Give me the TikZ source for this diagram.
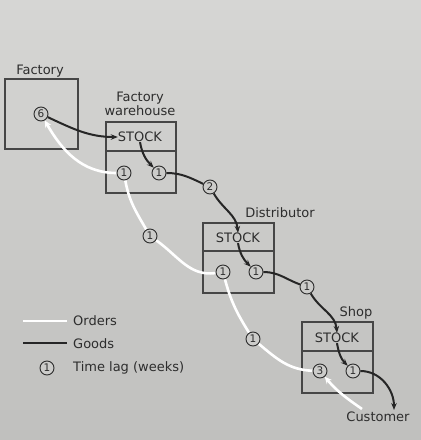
\documentclass[tikz,border=0pt]{standalone}
\usepackage{fontspec}
\setmainfont{DejaVu Sans}
\usetikzlibrary{arrows.meta}
\definecolor{bgtop}{RGB}{214,214,212}
\definecolor{bgbot}{RGB}{192,192,190}
\definecolor{bgc}{RGB}{204,204,202}
\definecolor{ink}{RGB}{45,45,45}
\definecolor{boxc}{RGB}{70,70,70}
\pgfdeclarelayer{bg}\pgfdeclarelayer{boxes}\pgfdeclarelayer{lines}
\pgfsetlayers{bg,boxes,lines,main}
\begin{document}
\begin{tikzpicture}[x=1pt,y=1pt,
 lbl/.style={font=\fontsize{13}{14}\selectfont, text=ink, inner sep=0pt, align=center},
 lag/.style={circle, draw=ink, line width=0.9pt, fill=bgc, inner sep=0pt, minimum size=14pt, font=\fontsize{10.5}{11}\selectfont, text=ink},
 goods/.style={draw=black!85, line width=2pt, -{Stealth[length=7pt,width=5.5pt]}},
 goodsline/.style={draw=black!85, line width=2pt},
 orders/.style={draw=white, line width=2.6pt},
 ordarrow/.style={orders, -{Stealth[length=7pt,width=6.5pt,fill=white]}},
 stockbox/.style={draw=boxc, line width=1.2pt, inner sep=0pt}]
\begin{pgfonlayer}{bg}
\shade[top color=bgtop, bottom color=bgbot] (0,0) rectangle (421,-440);
\end{pgfonlayer}
\useasboundingbox (0,0) rectangle (421,-440);
% boxes
\begin{pgfonlayer}{boxes}
\node[stockbox, minimum width=73pt, minimum height=70pt] (fbox) at (41.5,-114) {};
\node[stockbox, minimum width=70pt, minimum height=71pt] (wbox) at (141,-157.5) {};
\node[stockbox, minimum width=71pt, minimum height=70pt] (dbox) at (238.5,-258) {};
\node[stockbox, minimum width=71pt, minimum height=71pt] (sbox) at (337.5,-357.5) {};
\draw[draw=boxc, line width=1.2pt] (wbox.west |- 0,-151) -- (wbox.east |- 0,-151);
\draw[draw=boxc, line width=1.2pt] (dbox.west |- 0,-251) -- (dbox.east |- 0,-251);
\draw[draw=boxc, line width=1.2pt] (sbox.west |- 0,-351) -- (sbox.east |- 0,-351);
\end{pgfonlayer}
% labels
\node[lbl] (tf) at (40,-71) {Factory};
\node[lbl] (tw) at (140,-104) {Factory\\warehouse};
\node[lbl] (td) at (280,-213) {Distributor};
\node[lbl] (ts) at (356,-313) {Shop};
\node[lbl] (cust) at (378,-417) {Customer};
\node[lbl] (wst) at (140,-137) {STOCK};
\node[lbl] (dst) at (238,-238) {STOCK};
\node[lbl] (sst) at (337,-338) {STOCK};
% lag circles
\node[lag] (c6) at (41,-114) {6};
\node[lag] (w1a) at (124,-173) {1};
\node[lag] (w1b) at (159,-173) {1};
\node[lag] (c2) at (210,-187) {2};
\node[lag] (c1w) at (150,-236) {1};
\node[lag] (d1a) at (223,-272) {1};
\node[lag] (d1b) at (256,-272) {1};
\node[lag] (c1g) at (307,-287) {1};
\node[lag] (c1o) at (253,-339) {1};
\node[lag] (s3) at (320,-371) {3};
\node[lag] (s1b) at (353,-371) {1};
\coordinate (custin) at (394,-410);
\coordinate (custout) at (362,-409);
% legend
\coordinate (lo1) at (23,-321); \coordinate (lo2) at (67,-321);
\coordinate (lg1) at (23,-343); \coordinate (lg2) at (67,-343);
\node[lag] (llag) at (47,-368) {1};
\node[lbl, anchor=west] (lto) at (73,-321) {Orders};
\node[lbl, anchor=west] (ltg) at (73,-344) {Goods};
\node[lbl, anchor=west] (ltl) at (73,-368) {Time lag (weeks)};
\begin{pgfonlayer}{lines}
% goods
\draw[goods] (c6) to[out=-25,in=180] (wst.west);
\draw[goods] (wst.south) to[out=-80,in=135] (w1b);
\draw[goodsline] (w1b) to[out=0,in=155] (c2);
\draw[goods] (c2) to[out=-60,in=95] (dst.north);
\draw[goods] (dst.south) to[out=-80,in=135] (d1b);
\draw[goodsline] (d1b) to[out=0,in=160] (c1g);
\draw[goods] (c1g) to[out=-60,in=95] (sst.north);
\draw[goods] (sst.south) to[out=-80,in=135] (s1b);
\draw[goods] (s1b) to[out=0,in=90] (custin);
% orders
\draw[ordarrow] (custout) to[out=145,in=-50] (s3);
\draw[orders] (s3) to[out=178,in=-40] (c1o);
\draw[orders] (c1o) to[out=122,in=-75] (d1a);
\draw[orders] (d1a) to[out=188,in=-35] (c1w);
\draw[orders] (c1w) to[out=120,in=-80] (w1a);
\draw[ordarrow] (w1a) to[out=180,in=-60] (c6);
% legend lines
\draw[orders] (lo1) -- (lo2);
\draw[goodsline] (lg1) -- (lg2);
\end{pgfonlayer}
\end{tikzpicture}
\end{document}
